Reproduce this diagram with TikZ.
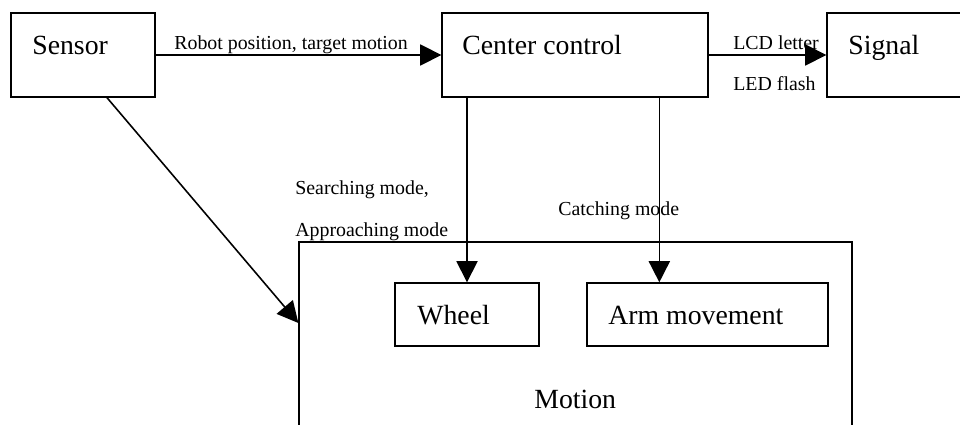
\documentclass[tikz,border=0pt]{standalone}
\usepackage{fontspec}
\setmainfont{Liberation Serif}
\usetikzlibrary{calc,arrows.meta}

\begin{document}
\begin{tikzpicture}[x=0.02cm,y=-0.02cm,
    box/.style = {draw,line width=0.8pt,inner sep=0pt},
    boxtext/.style = {anchor=base west,inner sep=0pt,font=\fontsize{15.8}{18}\selectfont},
    linktext/.style = {anchor=base west,inner sep=0pt,font=\fontsize{11.3}{13}\selectfont},
    link/.style = {line width=0.9pt,-{Triangle[length=12pt,width=12pt]}}]
        \clip(0,0)rectangle(960,425);
        % 方塊
        \node[box,minimum width=2.88cm,minimum height=1.68cm](sensor)at(83,55){};
        \node[box,minimum width=5.32cm,minimum height=1.68cm](ctrl)at(575,55){};
        \node[box,minimum width=2.86cm,minimum height=1.68cm](signal)at(898.5,55){};
        \node[box,minimum width=11.06cm,minimum height=3.96cm](motion)at(575.5,341){};
        \node[box,minimum width=2.88cm,minimum height=1.26cm](wheel)at(467,314.5){};
        \node[box,minimum width=4.82cm,minimum height=1.26cm](arm)at(707.5,314.5){};
        % 方塊文字
        \node[boxtext](sensortxt)at(32,55){Sensor};
        \node[boxtext](ctrltxt)at(462,55){Center control};
        \node[boxtext](signaltxt)at(848,55){Signal};
        \node[boxtext](wheeltxt)at(417,325){Wheel};
        \node[boxtext](armtxt)at(608,325){Arm movement};
        \node[boxtext](motiontxt)at(534,408){Motion};
        % 連線
        \coordinate(sensorout)at($(sensor.south)+(24,0)$);
        \coordinate(motionin)at($(motion.west)+(0,-18)$);
        \coordinate(armin)at($(arm.north west)+(73,0)$);
        \draw[link](sensor)to(ctrl);
        \draw[link](ctrl)to(signal);
        \draw[link](ctrl.south -| wheel.north)to(wheel.north);
        \draw[link](ctrl.south -| armin)to(armin);
        \draw[link](sensorout)to(motionin);
        % 連線文字
        \node[linktext](postxt)at(174,50){Robot position, target motion};
        \node[linktext](lcdtxt)at(733,50){LCD letter};
        \node[linktext](ledtxt)at(733,91){LED flash};
        \node[linktext](searchtxt)at(295,195){Searching mode,};
        \node[linktext](approachtxt)at(295,237){Approaching mode};
        \node[linktext](catchtxt)at(558,216){Catching mode};
    \end{tikzpicture}
\end{document}
